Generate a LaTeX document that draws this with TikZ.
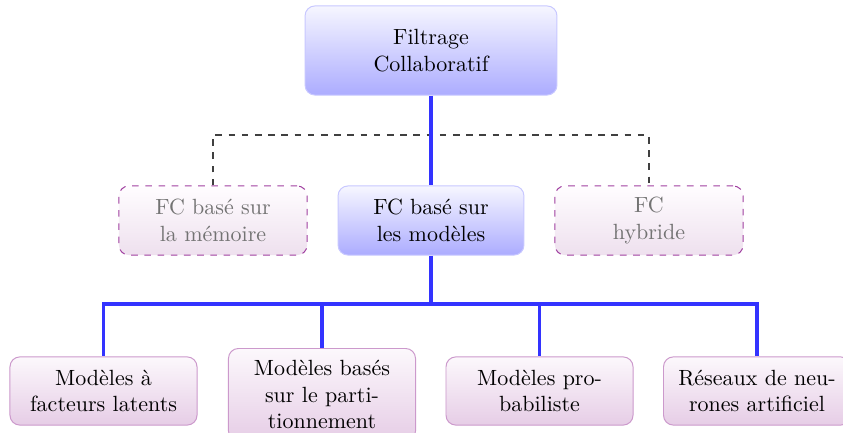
\documentclass[tikz,border=0pt]{standalone}
\usetikzlibrary{shapes.misc}
\definecolor{linkblue}{HTML}{3333FF}
\definecolor{rootborder}{HTML}{C8C8FF}
\definecolor{roottop}{HTML}{F6F6FF}
\definecolor{rootbottom}{HTML}{ACACFF}
\definecolor{leafborder}{HTML}{CC99CC}
\definecolor{leaftop}{HTML}{FCF8FC}
\definecolor{leafbottom}{HTML}{E6CDE6}
\definecolor{altborder}{HTML}{A040A0}
\definecolor{alttop}{HTML}{FFFDFF}
\definecolor{altbottom}{HTML}{EEE0EE}
\tikzset{
  box/.style={rectangle, rounded corners=4.5pt, align=center, inner sep=2pt, line width=0.45pt},
  rootbox/.style={box, draw=rootborder, top color=roottop, bottom color=rootbottom},
  leafbox/.style={box, draw=leafborder, top color=leaftop, bottom color=leafbottom,
                  minimum width=85pt, minimum height=31pt},
  altbox/.style={box, draw=altborder, dashed, top color=alttop, bottom color=altbottom,
                 text=black!55, minimum width=85.5pt, minimum height=31.4pt},
  mainlink/.style={draw=linkblue, line width=1.7pt},
  altlink/.style={draw=black!75, dashed, line width=0.6pt},
}
\begin{document}
\begin{tikzpicture}[x=0.4545pt, y=-0.4545pt]
  \clip (0,0) rectangle (843,432);
  \fill[white] (0,0) rectangle (843,432);

  % root
  \node[rootbox, minimum width=114.5pt, minimum height=40.5pt] (fc) at (431,50.5)
    {Filtrage\\Collaboratif};

  % second level
  \node[altbox] (mem) at (213,220.5) {FC basé sur\\la mémoire};
  \node[rootbox, minimum width=84.5pt, minimum height=31.4pt] (mod) at (431,220.5)
    {FC basé sur\\les modèles};
  \node[altbox] (hyb) at (649,220.5) {FC\\hybride};

  % third level
  \node[leafbox] (b1) at (103.5,391) {Modèles à\\facteurs latents};
  \node[leafbox, minimum height=42pt, anchor=north] (b2) at (322,348)
    {Modèles basés\\sur le parti-\\tionnement};
  \node[leafbox] (b3) at (539.5,391) {Modèles pro-\\babiliste};
  \node[leafbox] (b4) at (757,391) {Réseaux de neu-\\rones artificiel};

  % junctions
  \coordinate (j1) at (431,135);
  \coordinate (j2) at (431,304);

  % connectors
  \draw[altlink] (mem.north) |- (j1) -| (hyb.north);
  \draw[mainlink] (fc.south) -- (mod.north);
  \draw[mainlink] (mod.south) -- (j2) -| (b1.north);
  \draw[mainlink] (j2) -| (b2.north);
  \draw[mainlink] (j2) -| (b3.north);
  \draw[mainlink] (j2) -| (b4.north);
\end{tikzpicture}
\end{document}
